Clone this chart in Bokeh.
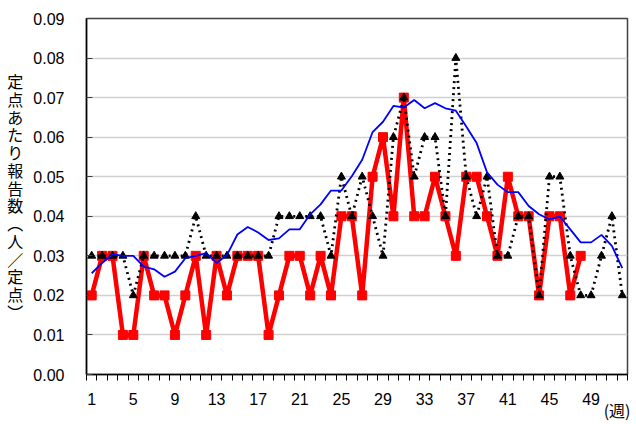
from bokeh.plotting import figure
from bokeh.models import FixedTicker, NumeralTickFormatter, Range1d, ColumnDataSource, LinearAxis
from bokeh.embed import file_html
from bokeh.resources import INLINE

weeks = list(range(1, 53))
x_tick_labels = [1, 5, 9, 13, 17, 21, 25, 29, 33, 37, 41, 45, 49]
y_ticks = [0.00, 0.01, 0.02, 0.03, 0.04, 0.05, 0.06, 0.07, 0.08, 0.09]

current_year = [0.02, 0.03, 0.03, 0.01, 0.01, 0.03, 0.02, 0.02, 0.01, 0.02,
                0.03, 0.01, 0.03, 0.02, 0.03, 0.03, 0.03, 0.01, 0.02, 0.03,
                0.03, 0.02, 0.03, 0.02, 0.04, 0.04, 0.02, 0.05, 0.06, 0.04,
                0.07, 0.04, 0.04, 0.05, 0.04, 0.03, 0.05, 0.05, 0.04, 0.03,
                0.05, 0.04, 0.04, 0.02, 0.04, 0.04, 0.02, 0.03]

previous_year = [0.03, 0.03, 0.03, 0.03, 0.02, 0.03, 0.03, 0.03, 0.03, 0.03,
                 0.04, 0.03, 0.03, 0.03, 0.03, 0.03, 0.03, 0.03, 0.04, 0.04,
                 0.04, 0.04, 0.04, 0.03, 0.05, 0.04, 0.05, 0.04, 0.03, 0.06,
                 0.07, 0.05, 0.06, 0.06, 0.04, 0.08, 0.05, 0.04, 0.05, 0.03,
                 0.03, 0.04, 0.04, 0.02, 0.05, 0.05, 0.03, 0.02, 0.02, 0.03,
                 0.04, 0.02]

five_year_avg = [0.0256, 0.0282, 0.0304, 0.0300, 0.0300, 0.0273, 0.0266, 0.0247, 0.0260, 0.0294,
                 0.0300, 0.0307, 0.0282, 0.0302, 0.0354, 0.0373, 0.0359, 0.0340, 0.0344, 0.0367,
                 0.0367, 0.0405, 0.0430, 0.0465, 0.0465, 0.0501, 0.0543, 0.0613, 0.0639, 0.0679,
                 0.0675, 0.0694, 0.0673, 0.0686, 0.0673, 0.0667, 0.0627, 0.0585, 0.0511, 0.0480,
                 0.0461, 0.0461, 0.0426, 0.0405, 0.0392, 0.0399, 0.0367, 0.0334, 0.0334, 0.0353,
                 0.0325, 0.0269]

y_label = "定点あたり報告数︵人／定点︶"
x_unit = "(週)"
x_unit_pos = 51.5

NUM_FONT = "Liberation Sans"
JP_FONT = "Noto Sans CJK JP"

p = figure(width=636, height=424, output_backend="svg", toolbar_location=None,
           x_range=Range1d(0.5, 52.5), y_range=Range1d(0, 0.09),
           min_border_left=86, min_border_right=9, min_border_top=18, min_border_bottom=48)

p.outline_line_color = "#404040"
p.outline_line_width = 1.5
p.xgrid.grid_line_color = None
p.ygrid.grid_line_color = "#d0d0d0"
p.ygrid.grid_line_width = 1.5
p.ygrid.ticker = FixedTicker(ticks=y_ticks)

# y axis
p.yaxis.ticker = FixedTicker(ticks=y_ticks)
p.yaxis.formatter = NumeralTickFormatter(format="0.00")
p.yaxis.axis_line_color = "black"
p.yaxis.axis_line_width = 1.5
p.yaxis.major_tick_in = 6
p.yaxis.major_tick_out = 0
p.yaxis.major_tick_line_color = "#404040"
p.yaxis.minor_tick_line_color = None
p.yaxis.major_label_standoff = 22
p.yaxis.major_label_text_font = NUM_FONT
p.yaxis.major_label_text_font_size = "16px"
p.yaxis.major_label_text_color = "black"
p.yaxis.axis_label = "\n".join(list(y_label))
p.yaxis.axis_label_orientation = "horizontal"
p.yaxis.axis_label_standoff = 7
p.yaxis.axis_label_text_font = JP_FONT
p.yaxis.axis_label_text_font_size = "16px"
p.yaxis.axis_label_text_font_style = "normal"
p.yaxis.axis_label_text_line_height = 0.74
p.yaxis.axis_label_text_color = "black"

# x axis
p.xaxis.ticker = FixedTicker(ticks=x_tick_labels,
                             minor_ticks=[w - 0.5 for w in weeks] + [52.5])
p.xaxis.axis_line_color = "black"
p.xaxis.axis_line_width = 1.5
p.xaxis.major_tick_line_color = None
p.xaxis.major_tick_in = 0
p.xaxis.major_tick_out = 0
p.xaxis.minor_tick_line_color = "black"
p.xaxis.minor_tick_line_width = 1
p.xaxis.minor_tick_in = 0
p.xaxis.minor_tick_out = 6
p.xaxis.major_label_standoff = 12
p.xaxis.major_label_text_font = NUM_FONT
p.xaxis.major_label_text_font_size = "16px"
p.xaxis.major_label_text_color = "black"

# unit "(週)" as a second, bare axis below
unit_axis = LinearAxis(ticker=FixedTicker(ticks=[x_unit_pos]),
                       major_label_overrides={x_unit_pos: x_unit},
                       axis_line_color=None, major_tick_line_color=None,
                       minor_tick_line_color=None, major_tick_in=0, major_tick_out=0,
                       minor_tick_in=0, minor_tick_out=0,
                       major_label_standoff=-10,
                       major_label_text_font=JP_FONT,
                       major_label_text_font_size="16px",
                       major_label_text_color="black")
p.add_layout(unit_axis, "below")

# series
src_cur = ColumnDataSource(dict(x=weeks[:len(current_year)], y=current_year))
src_prev = ColumnDataSource(dict(x=weeks, y=previous_year))
src_avg = ColumnDataSource(dict(x=weeks, y=five_year_avg))

p.line("x", "y", source=src_cur, line_color="#ff0000", line_width=4.5)
p.scatter("x", "y", source=src_cur, marker="square", size=9,
          fill_color="#ff0000", line_color="#ff0000")

p.line("x", "y", source=src_prev, line_color="black", line_width=2.8, line_dash="2 4")
p.scatter("x", "y", source=src_prev, marker="triangle", size=8,
          fill_color="black", line_color="black")

p.line("x", "y", source=src_avg, line_color="#0000ff", line_width=1.8)

open("out.html", "w").write(file_html(p, INLINE))
